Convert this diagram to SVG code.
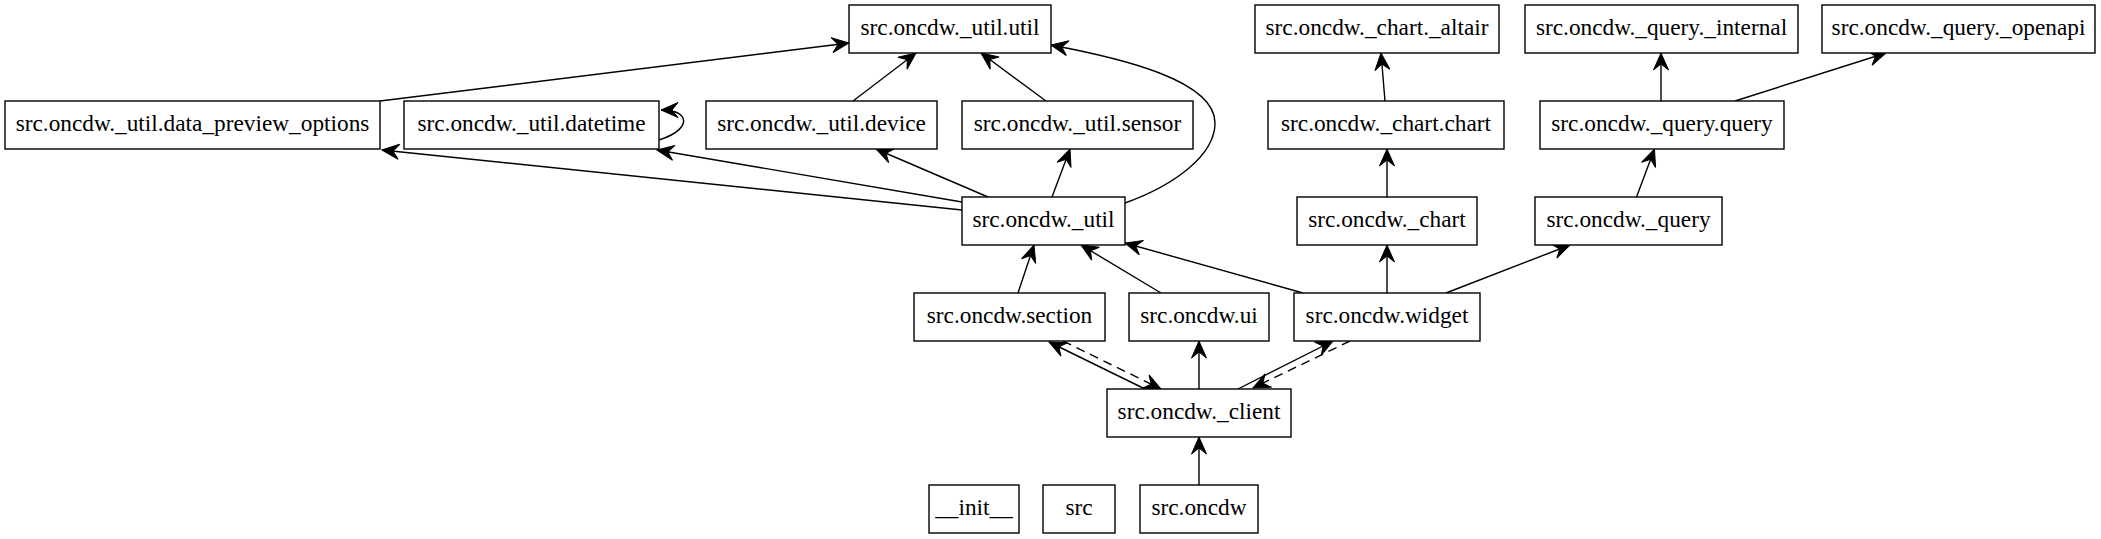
<svg xmlns="http://www.w3.org/2000/svg" width="2101" height="539" viewBox="0 0 2101 539">
<style>
.n rect{fill:#fff;stroke:#000;stroke-width:1.4}
.n text{text-anchor:middle;fill:#000}
#edges path{fill:none;stroke:#000;stroke-width:1.4;marker-end:url(#vee)}
#edges path.d{stroke-dasharray:9,6}
</style>
<defs>
<marker id="vee" markerUnits="userSpaceOnUse" viewBox="-18 -10 20 20" refX="0" refY="0" markerWidth="20" markerHeight="20" orient="auto">
<path d="M0,0 L-17,-7.5 L-11,0 L-17,7.5 Z" fill="#000" stroke="#000" stroke-width="1"/>
</marker>
</defs>
<rect width="2101" height="539" fill="#fff"/>
<g id="edges">
<path d="M380,101 L849,43"/>
<path d="M962,210 L382,150"/>
<path d="M962,202 L657,150"/>
<path d="M659,140 C678,134 686,125 683,118 C680,112 672,110 661,110"/>
<path d="M988,197 L876,149"/>
<path d="M1052,197 L1070,149"/>
<path d="M853,101 L916,53"/>
<path d="M1046,101 L981,53"/>
<path d="M1125,203 C1175,185 1215,155 1215,123 C1215,80 1120,58 1051,45"/>
<path d="M1385,101 L1381,53"/>
<path d="M1387,197 L1387,149"/>
<path d="M1661,101 L1661,53"/>
<path d="M1735,101 L1886,53"/>
<path d="M1636.5,197 L1654.5,149"/>
<path d="M1303,293 L1125,243"/>
<path d="M1387,293 L1387,245"/>
<path d="M1446,293 L1570,245"/>
<path d="M1018,293 L1034,245"/>
<path d="M1161,293 L1081,245"/>
<path d="M1145,389 L1049,342"/>
<path class="d" d="M1063,341 L1161,389"/>
<path d="M1199,389 L1199,341"/>
<path d="M1238,389 L1333,341"/>
<path class="d" d="M1350,341 L1253,388"/>
<path d="M1199,485 L1199,437"/>
</g>
<g id="nodes" font-family="Liberation Serif, serif" font-size="23.3">
<g id="util_util" class="n"><rect x="849" y="5" width="202" height="48"/><text x="950" y="35">src.oncdw._util.util</text></g>
<g id="chart_altair" class="n"><rect x="1255" y="5" width="244" height="48"/><text x="1377" y="35">src.oncdw._chart._altair</text></g>
<g id="query_internal" class="n"><rect x="1525" y="5" width="273" height="48"/><text x="1661.5" y="35">src.oncdw._query._internal</text></g>
<g id="query_openapi" class="n"><rect x="1822" y="5" width="273" height="48"/><text x="1958.5" y="35">src.oncdw._query._openapi</text></g>
<g id="util_dpo" class="n"><rect x="5" y="101" width="375" height="48"/><text x="192.5" y="131">src.oncdw._util.data_preview_options</text></g>
<g id="util_datetime" class="n"><rect x="404" y="101" width="255" height="48"/><text x="531.5" y="131">src.oncdw._util.datetime</text></g>
<g id="util_device" class="n"><rect x="706" y="101" width="231" height="48"/><text x="821.5" y="131">src.oncdw._util.device</text></g>
<g id="util_sensor" class="n"><rect x="962" y="101" width="231" height="48"/><text x="1077.5" y="131">src.oncdw._util.sensor</text></g>
<g id="chart_chart" class="n"><rect x="1268" y="101" width="236" height="48"/><text x="1386" y="131">src.oncdw._chart.chart</text></g>
<g id="query_query" class="n"><rect x="1540" y="101" width="244" height="48"/><text x="1662" y="131">src.oncdw._query.query</text></g>
<g id="util" class="n"><rect x="962" y="197" width="163" height="48"/><text x="1043.5" y="227">src.oncdw._util</text></g>
<g id="chart" class="n"><rect x="1297" y="197" width="180" height="48"/><text x="1387" y="227">src.oncdw._chart</text></g>
<g id="query" class="n"><rect x="1535" y="197" width="187" height="48"/><text x="1628.5" y="227">src.oncdw._query</text></g>
<g id="section" class="n"><rect x="914" y="293" width="191" height="48"/><text x="1009.5" y="323">src.oncdw.section</text></g>
<g id="ui" class="n"><rect x="1129" y="293" width="140" height="48"/><text x="1199" y="323">src.oncdw.ui</text></g>
<g id="widget" class="n"><rect x="1294" y="293" width="186" height="48"/><text x="1387" y="323">src.oncdw.widget</text></g>
<g id="client" class="n"><rect x="1107" y="389" width="184" height="48"/><text x="1199" y="419">src.oncdw._client</text></g>
<g id="init" class="n"><rect x="929" y="485" width="90" height="48"/><text x="974" y="515">__init__</text></g>
<g id="src" class="n"><rect x="1043" y="485" width="72" height="48"/><text x="1079" y="515">src</text></g>
<g id="oncdw" class="n"><rect x="1140" y="485" width="118" height="48"/><text x="1199" y="515">src.oncdw</text></g>
</g>
</svg>
